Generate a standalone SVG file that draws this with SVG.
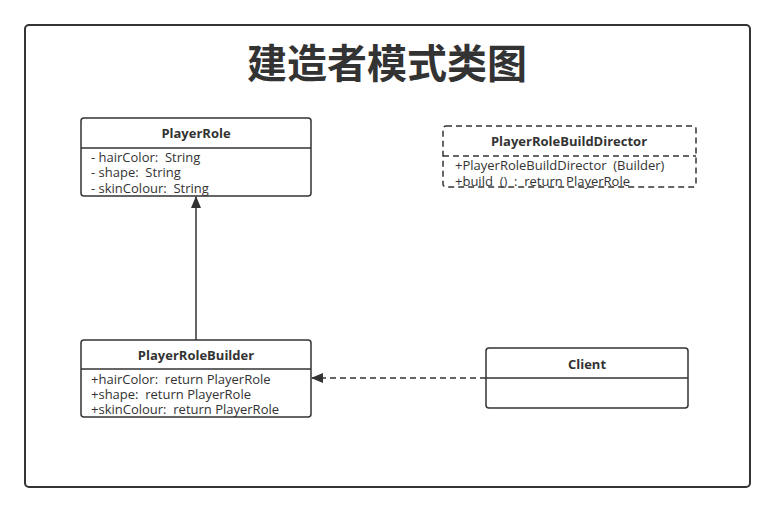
<svg xmlns="http://www.w3.org/2000/svg" width="775" height="512" viewBox="0 0 775 512">
<style>
.box{fill:#fff;stroke:#333;stroke-width:1.5}
.dash{stroke-dasharray:6 4}
.ln{stroke:#333;stroke-width:1.5;fill:none}
.hd{font-family:"Open Sans","Noto Sans","Liberation Sans",sans-serif;font-size:13px;font-weight:bold;fill:#333;text-anchor:middle}
.at{font-family:"Open Sans","Noto Sans","Liberation Sans",sans-serif;font-size:13px;fill:#333;white-space:pre}
.title{font-family:"Noto Sans CJK SC",sans-serif;font-size:40px;font-weight:bold;fill:#333;text-anchor:middle}
</style>
<defs>
<marker id="ah" markerWidth="12" markerHeight="10" refX="11" refY="5" orient="auto" markerUnits="userSpaceOnUse">
<path d="M0,0 L12,5 L0,10 Z" fill="#333"/>
</marker>
</defs>
<rect x="25" y="25" width="725" height="462" rx="4" fill="#fff" stroke="#333" stroke-width="2"/>
<text class="title" x="387" y="78">建造者模式类图</text>
<g id="connectors">
<line class="ln" x1="196" y1="340" x2="196" y2="197" marker-end="url(#ah)"/>
<line class="ln dash" x1="486" y1="378" x2="312" y2="378" marker-end="url(#ah)"/>
</g>
<g id="PlayerRole">
<rect class="box" x="81" y="118" width="230" height="78" rx="3"/>
<line class="ln" x1="81" y1="148" x2="311" y2="148"/>
<text class="hd" x="196" y="138">PlayerRole</text>
<text class="at" x="91" y="162" xml:space="preserve">- hairColor:  String</text>
<text class="at" x="91" y="177" xml:space="preserve">- shape:  String</text>
<text class="at" x="91" y="193" xml:space="preserve">- skinColour:  String</text>
</g>
<g id="PlayerRoleBuildDirector">
<rect class="box dash" x="443" y="126" width="253" height="61" rx="3"/>
<line class="ln dash" x1="443" y1="156" x2="696" y2="156"/>
<text class="hd" x="569" y="146">PlayerRoleBuildDirector</text>
<text class="at" x="455" y="170" xml:space="preserve">+PlayerRoleBuildDirector  (Builder)</text>
<text class="at" x="455" y="186" xml:space="preserve">+build  ()  :  return PlayerRole</text>
</g>
<g id="PlayerRoleBuilder">
<rect class="box" x="81" y="340" width="230" height="77" rx="3"/>
<line class="ln" x1="81" y1="369" x2="311" y2="369"/>
<text class="hd" x="196" y="360">PlayerRoleBuilder</text>
<text class="at" x="91" y="384" xml:space="preserve">+hairColor:  return PlayerRole</text>
<text class="at" x="91" y="399" xml:space="preserve">+shape:  return PlayerRole</text>
<text class="at" x="91" y="414" xml:space="preserve">+skinColour:  return PlayerRole</text>
</g>
<g id="Client">
<rect class="box" x="486" y="348" width="202" height="60" rx="3"/>
<line class="ln" x1="486" y1="378" x2="688" y2="378"/>
<text class="hd" x="587" y="369">Client</text>
</g>
</svg>
